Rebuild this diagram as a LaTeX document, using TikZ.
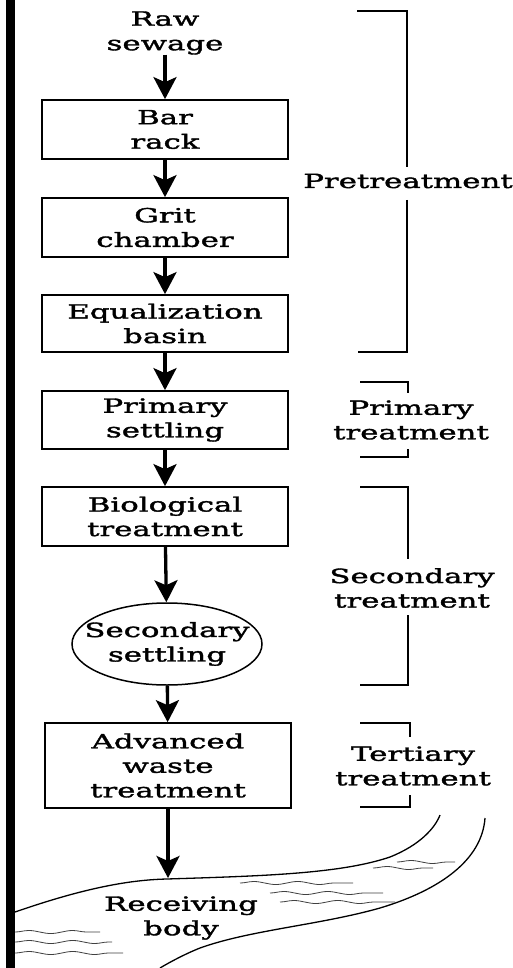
\documentclass[tikz,border=0pt]{standalone}
\usepackage{fontspec}
\setmainfont[FakeStretch=1.58,FakeBold=1.8]{DejaVu Serif}
\usetikzlibrary{arrows.meta,shapes.geometric,decorations.pathmorphing}

\begin{document}
\begin{tikzpicture}[x=1pt,y=-1pt,
  every node/.style={font=\fontsize{19.5}{24.5}\selectfont, align=center, inner sep=0pt},
  unit/.style={draw, line width=1.7pt, minimum width=246pt, minimum height=59pt},
  flow/.style={line width=3.3pt, -{Stealth[length=22pt,width=23pt,inset=5pt]}},
  brace/.style={line width=2pt},
  wave/.style={line width=0.8pt, black!75, decorate,
    decoration={snake, amplitude=1.5pt, segment length=44pt}}]

% page frame and heavy left rule
\fill[white] (0,0) rectangle (512,968);
\useasboundingbox (0,0) rectangle (512,968);
\fill[black] (6,0) rectangle (15,968);

% treatment train
\node (raw) at (165,33) {Raw\\sewage};
\node[unit] (bar) at (165,129.5) {Bar\\rack};
\node[unit] (grit) at (165,227.5) {Grit\\chamber};
\node[unit, minimum height=57pt] (eq) at (165,323.5) {Equalization\\basin};
\node[unit, minimum height=58pt] (prim) at (165,420) {Primary\\settling};
\node[unit] (bio) at (165,516.5) {Biological\\treatment};
\node[draw, ellipse, line width=1.5pt, minimum width=190pt, minimum height=82pt]
  (sec) at (167,644) {};
\node (sectext) at (sec) {Secondary\\settling};
\node[unit, minimum height=85pt] (adv) at (168,765.5) {Advanced\\waste\\treatment};
\node (recv) at (181,918) {Receiving\\body};
\coordinate (shore) at (168,878);

\draw[flow] (raw) -- (bar);
\draw[flow] (bar) -- (grit);
\draw[flow] (grit) -- (eq);
\draw[flow] (eq) -- (prim);
\draw[flow] (prim) -- (bio);
\draw[flow] (bio) -- (sec);
\draw[flow] (sec) -- (adv);
\draw[flow] (adv) -- (shore);

% stage labels with their brackets
\node (pre) at (408,181) {Pretreatment};
\node (primt) at (411,420) {Primary\\treatment};
\node (sect) at (412,588) {Secondary\\treatment};
\node (tert) at (413,766) {Tertiary\\treatment};

\draw[brace] (357,11) -- (407,11) -- (407,167);
\draw[brace] (407,200) -- (407,352) -- (358,352);
\draw[brace] (360,382) -- (408,382) -- (408,393);
\draw[brace] (408,449) -- (408,457) -- (360,457);
\draw[brace] (360,487) -- (408,487) -- (408,559);
\draw[brace] (408,615) -- (408,685) -- (360,685);
\draw[brace] (360,723) -- (410,723) -- (410,737);
\draw[brace] (410,795) -- (410,807) -- (360,807);

% receiving stream
\draw[line width=1.3pt] (15,912) .. controls (70,893) and (120,880) .. (167,879)
  .. controls (260,876) and (340,874) .. (390,857)
  .. controls (420,845) and (435,828) .. (440,815);
\draw[line width=1.3pt] (485,818) .. controls (482,860) and (440,890) .. (380,908)
  .. controls (320,925) and (250,930) .. (200,948)
  .. controls (185,954) and (170,962) .. (160,968);

% ripples
\draw[wave] (15,932) -- (100,932);
\draw[wave] (15,942) -- (112,942);
\draw[wave] (15,953) -- (123,953);
\draw[wave] (240,883) -- (353,883);
\draw[wave] (270,893) -- (383,893);
\draw[wave] (280,902) -- (395,902);
\draw[wave] (397,862) -- (455,862);
\draw[wave] (373,868) -- (433,868);
\end{tikzpicture}
\end{document}
